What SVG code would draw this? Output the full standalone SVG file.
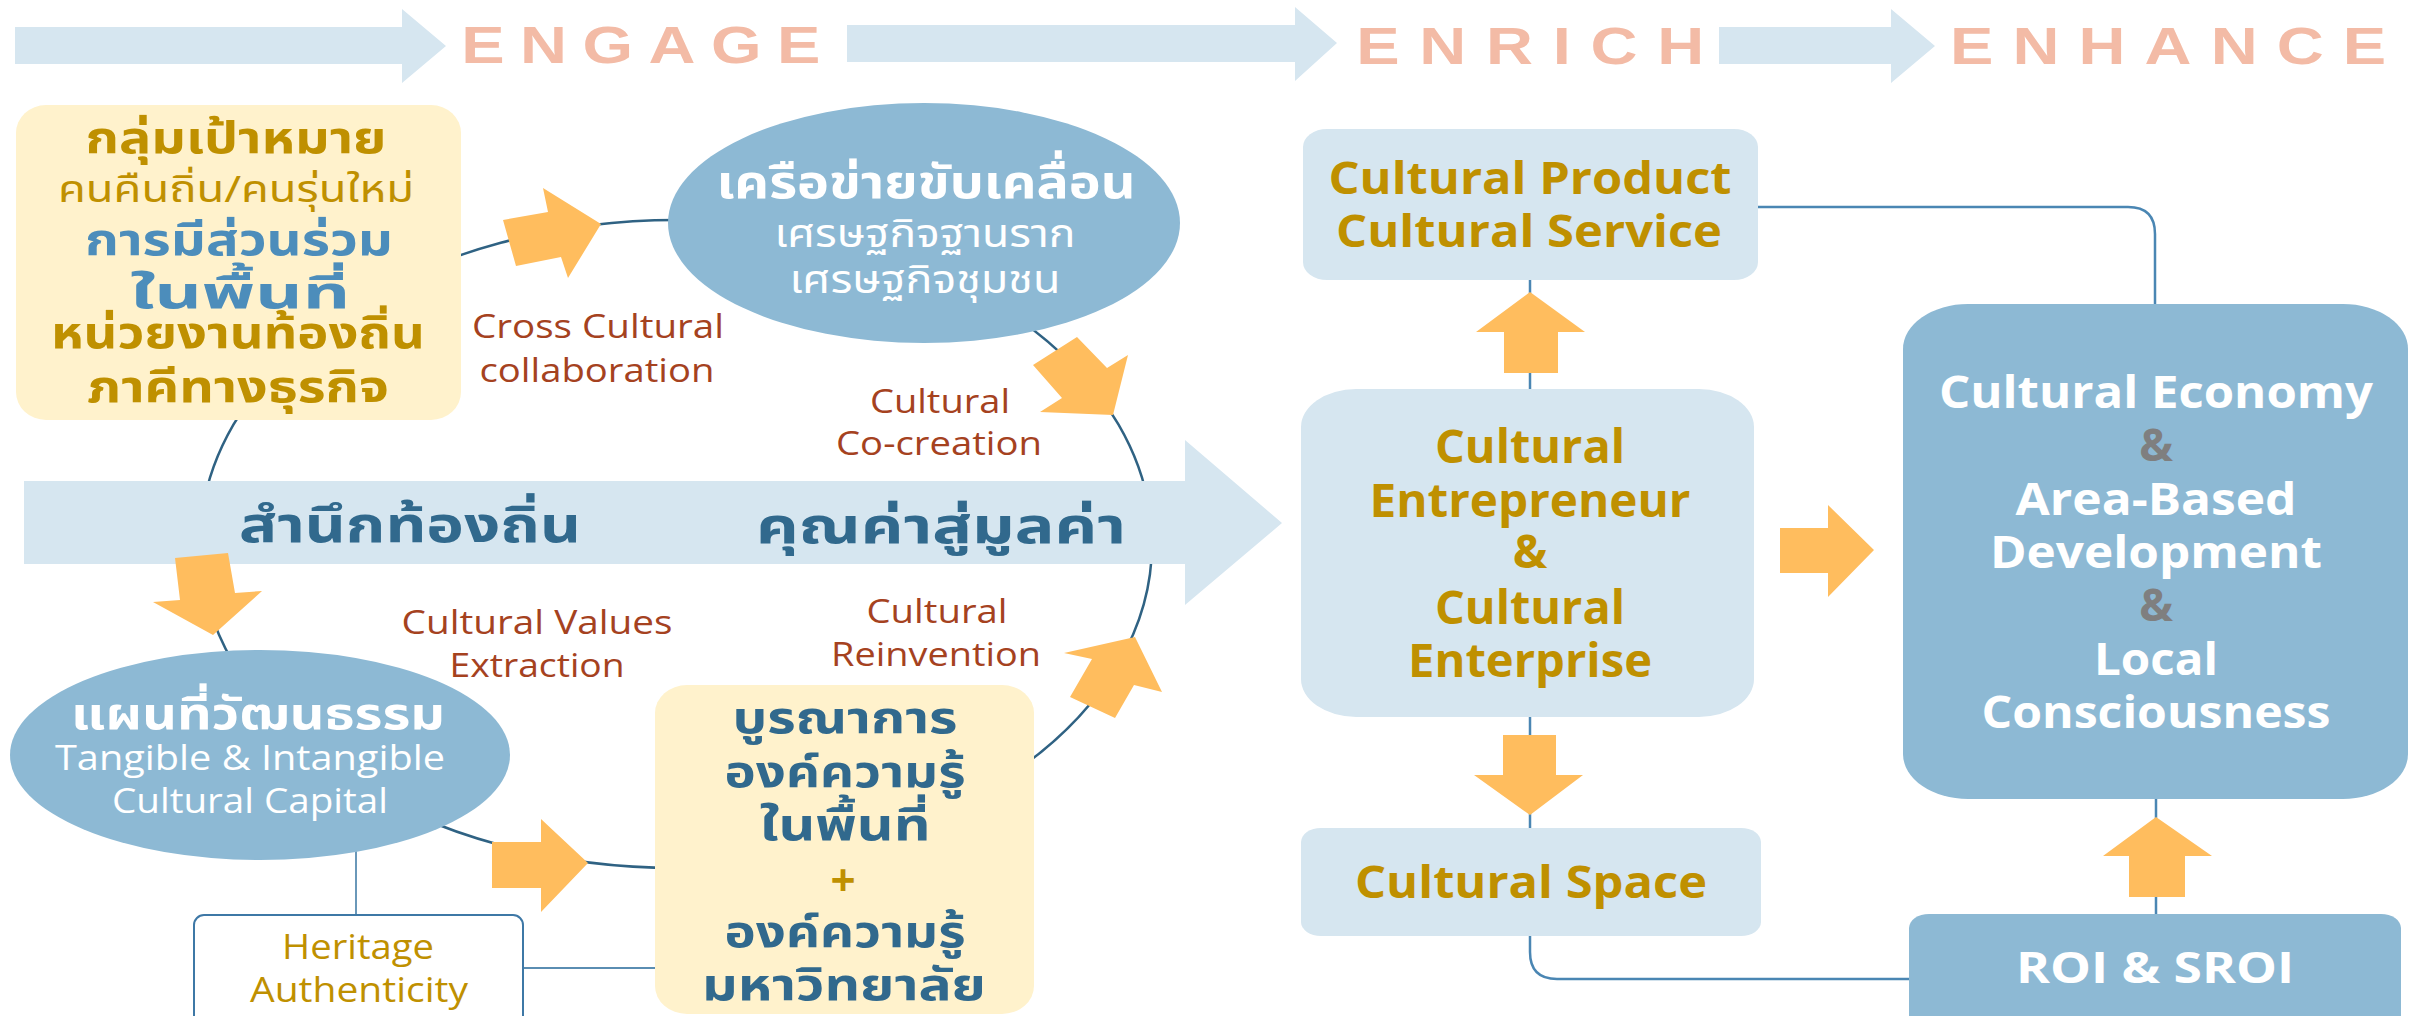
<svg xmlns="http://www.w3.org/2000/svg" width="2420" height="1016" viewBox="0 0 2420 1016">
<defs>
<style>
.bg{fill:#ffffff}
.pale{fill:#D6E6F0}
.mid{fill:#8DB9D4}
.yel{fill:#FFF2CC}
.org{fill:#FFBD5E}
.ring{fill:none;stroke:#2F6283;stroke-width:2.5}
.ln{fill:none;stroke:#4A86B3;stroke-width:2.5}
.ln2{fill:none;stroke:#5A8DB2;stroke-width:1.8}
.stage{font-family:"Liberation Sans",Arial,sans-serif;font-weight:bold;font-size:52px;fill:#F3BBA6}
.th{font-family:"Noto Sans Thai","Noto Sans Thai UI","Leelawadee UI",Tahoma,"DejaVu Sans","Noto Sans",sans-serif;text-anchor:middle}
.en{font-family:"Open Sans","Noto Sans","Liberation Sans",sans-serif;text-anchor:middle}
.b{font-weight:bold}
.gold{fill:#BF9000}
.blu{fill:#4C8DBB}
.dk{fill:#31698D}
.wh{fill:#ffffff}
.br{fill:#A5421F}
.gr{fill:#7F7F7F}
</style>
</defs>
<rect class="bg" x="0" y="0" width="2420" height="1016"/>

<!-- top stage arrows -->
<g id="stage-engage">
<polygon class="pale" points="15,27 402,27 402,9 446,46 402,83 402,64 15,64"/>
<text class="stage" transform="scale(1.25,1)" x="369" y="63" letter-spacing="12.4">ENGAGE</text>
</g>
<g id="stage-enrich">
<polygon class="pale" points="847,25 1295,25 1295,7 1337,43 1295,81 1295,62 847,62"/>
<text class="stage" transform="scale(1.25,1)" x="1085" y="64" letter-spacing="15.8">ENRICH</text>
</g>
<g id="stage-enhance">
<polygon class="pale" points="1719,27 1891,27 1891,9 1935,46 1891,83 1891,64 1719,64"/>
<text class="stage" transform="scale(1.25,1)" x="1560" y="64" letter-spacing="15.3">ENHANCE</text>
</g>

<!-- connectors -->
<g id="connectors">
<ellipse class="ring" cx="676" cy="544" rx="476" ry="324"/>
<line class="ln2" x1="356" y1="850" x2="356" y2="930"/>
<line class="ln2" x1="523" y1="968" x2="655" y2="968"/>
<path class="ln" d="M1758,207 H2128 Q2155,207 2155,234 V304"/>
<line class="ln" x1="1530" y1="280" x2="1530" y2="389"/>
<line class="ln" x1="1530" y1="717" x2="1530" y2="828"/>
<path class="ln" d="M1530,936 V952 Q1530,979 1557,979 H1909"/>
<line class="ln" x1="2156" y1="799" x2="2156" y2="914"/>
</g>

<!-- central band arrow -->
<g id="band">
<polygon class="pale" points="24,481 1185,481 1185,440 1282,523 1185,605 1185,564 24,564"/>
<text class="th b dk" x="410" y="542" font-size="50" textLength="342" lengthAdjust="spacingAndGlyphs">สำนึกท้องถิ่น</text>
<text class="th b dk" x="941" y="543" font-size="50" textLength="370" lengthAdjust="spacingAndGlyphs">คุณค่าสู่มูลค่า</text>
</g>

<!-- left nodes -->
<g id="target-group">
<rect class="yel" x="16" y="105" width="445" height="315" rx="30" ry="28"/>
<text class="th b gold" x="236" y="153" font-size="44" textLength="301" lengthAdjust="spacingAndGlyphs">กลุ่มเป้าหมาย</text>
<text class="th gold" x="236" y="202" font-size="37" textLength="356" lengthAdjust="spacingAndGlyphs">คนคืนถิ่น/คนรุ่นใหม่</text>
<text class="th b blu" x="239" y="255" font-size="44" textLength="308" lengthAdjust="spacingAndGlyphs">การมีส่วนร่วม</text>
<text class="th b blu" x="240" y="308" font-size="44" textLength="220" lengthAdjust="spacingAndGlyphs">ในพื้นที่</text>
<text class="th b gold" x="238" y="348" font-size="44" textLength="374" lengthAdjust="spacingAndGlyphs">หน่วยงานท้องถิ่น</text>
<text class="th b gold" x="238" y="402" font-size="44" textLength="302" lengthAdjust="spacingAndGlyphs">ภาคีทางธุรกิจ</text>
</g>

<g id="network">
<ellipse class="mid" cx="924" cy="223" rx="256" ry="120"/>
<text class="th b wh" x="926" y="198" font-size="46" textLength="419" lengthAdjust="spacingAndGlyphs">เครือข่ายขับเคลื่อน</text>
<text class="th wh" x="925" y="247" font-size="39" textLength="301" lengthAdjust="spacingAndGlyphs">เศรษฐกิจฐานราก</text>
<text class="th wh" x="925" y="293" font-size="39" textLength="271" lengthAdjust="spacingAndGlyphs">เศรษฐกิจชุมชน</text>
</g>

<g id="culture-map">
<ellipse class="mid" cx="260" cy="755" rx="250" ry="105"/>
<text class="th b wh" x="258" y="729" font-size="44" textLength="374" lengthAdjust="spacingAndGlyphs">แผนที่วัฒนธรรม</text>
<text class="en wh" x="250" y="770" font-size="34" textLength="390" lengthAdjust="spacingAndGlyphs">Tangible &amp; Intangible</text>
<text class="en wh" x="250" y="813" font-size="34" textLength="276" lengthAdjust="spacingAndGlyphs">Cultural Capital</text>
</g>

<g id="knowledge">
<rect class="yel" x="655" y="685" width="379" height="329" rx="32" ry="28"/>
<text class="th b dk" x="845" y="733" font-size="44" textLength="225" lengthAdjust="spacingAndGlyphs">บูรณาการ</text>
<text class="th b dk" x="845" y="787" font-size="44" textLength="241" lengthAdjust="spacingAndGlyphs">องค์ความรู้</text>
<text class="th b dk" x="845" y="840" font-size="44" textLength="171" lengthAdjust="spacingAndGlyphs">ในพื้นที่</text>
<text class="en b gold" x="843" y="896" font-size="44">+</text>
<text class="th b dk" x="845" y="947" font-size="44" textLength="241" lengthAdjust="spacingAndGlyphs">องค์ความรู้</text>
<text class="th b dk" x="844" y="1000" font-size="44" textLength="284" lengthAdjust="spacingAndGlyphs">มหาวิทยาลัย</text>
</g>

<g id="heritage">
<rect x="194" y="915" width="329" height="115" rx="10" ry="10" fill="#ffffff" stroke="#3E78A6" stroke-width="2"/>
<text class="en gold" x="358" y="959" font-size="34" textLength="152" lengthAdjust="spacingAndGlyphs">Heritage</text>
<text class="en gold" x="359" y="1002" font-size="34" textLength="218" lengthAdjust="spacingAndGlyphs">Authenticity</text>
</g>

<!-- labels on the ring -->
<g id="labels">
<text class="en br" x="598" y="338" font-size="32" textLength="252" lengthAdjust="spacingAndGlyphs">Cross Cultural</text>
<text class="en br" x="597" y="382" font-size="32" textLength="235" lengthAdjust="spacingAndGlyphs">collaboration</text>
<text class="en br" x="940" y="413" font-size="32" textLength="140" lengthAdjust="spacingAndGlyphs">Cultural</text>
<text class="en br" x="939" y="455" font-size="32" textLength="206" lengthAdjust="spacingAndGlyphs">Co-creation</text>
<text class="en br" x="537" y="634" font-size="32" textLength="271" lengthAdjust="spacingAndGlyphs">Cultural Values</text>
<text class="en br" x="537" y="677" font-size="32" textLength="175" lengthAdjust="spacingAndGlyphs">Extraction</text>
<text class="en br" x="937" y="623" font-size="32" textLength="141" lengthAdjust="spacingAndGlyphs">Cultural</text>
<text class="en br" x="936" y="666" font-size="32" textLength="210" lengthAdjust="spacingAndGlyphs">Reinvention</text>
</g>

<!-- right nodes -->
<g id="product-service">
<rect class="pale" x="1303" y="129" width="455" height="151" rx="24" ry="18"/>
<text class="en b gold" x="1530" y="194" font-size="45" textLength="403" lengthAdjust="spacingAndGlyphs">Cultural Product</text>
<text class="en b gold" x="1529" y="247" font-size="45" textLength="386" lengthAdjust="spacingAndGlyphs">Cultural Service</text>
</g>
<g id="entrepreneur">
<rect class="pale" x="1301" y="389" width="453" height="328" rx="55" ry="38"/>
<text class="en b gold" x="1530" y="463" font-size="46" textLength="190" lengthAdjust="spacingAndGlyphs">Cultural</text>
<text class="en b gold" x="1530" y="517" font-size="46" textLength="321" lengthAdjust="spacingAndGlyphs">Entrepreneur</text>
<text class="en b gold" x="1530" y="568" font-size="46">&amp;</text>
<text class="en b gold" x="1530" y="624" font-size="46" textLength="190" lengthAdjust="spacingAndGlyphs">Cultural</text>
<text class="en b gold" x="1530" y="677" font-size="46" textLength="244" lengthAdjust="spacingAndGlyphs">Enterprise</text>
</g>
<g id="space">
<rect class="pale" x="1301" y="828" width="460" height="108" rx="20" ry="14"/>
<text class="en b gold" x="1531" y="898" font-size="45" textLength="352" lengthAdjust="spacingAndGlyphs">Cultural Space</text>
</g>
<g id="economy">
<rect class="mid" x="1903" y="304" width="505" height="495" rx="65" ry="45"/>
<text class="en b wh" x="2156" y="408" font-size="45" textLength="434" lengthAdjust="spacingAndGlyphs">Cultural Economy</text>
<text class="en b gr" x="2156" y="461" font-size="45">&amp;</text>
<text class="en b wh" x="2156" y="515" font-size="45" textLength="281" lengthAdjust="spacingAndGlyphs">Area-Based</text>
<text class="en b wh" x="2156" y="568" font-size="45" textLength="332" lengthAdjust="spacingAndGlyphs">Development</text>
<text class="en b gr" x="2156" y="621" font-size="45">&amp;</text>
<text class="en b wh" x="2156" y="675" font-size="45" textLength="124" lengthAdjust="spacingAndGlyphs">Local</text>
<text class="en b wh" x="2156" y="728" font-size="45" textLength="349" lengthAdjust="spacingAndGlyphs">Consciousness</text>
</g>
<g id="roi">
<rect class="mid" x="1909" y="914" width="492" height="120" rx="20" ry="14"/>
<text class="en b wh" x="2155" y="983" font-size="43" textLength="278" lengthAdjust="spacingAndGlyphs">ROI &amp; SROI</text>
</g>

<!-- orange flow arrows -->
<g id="flow-arrows">
<polygon class="org" points="503,220 548,212 543,188 601,224 568,278 561,257 516,266"/>
<polygon class="org" points="1077,337 1107,368 1128,355 1113,415 1040,412 1062,398 1033,365"/>
<polygon class="org" points="1135,637 1162,692 1134,685 1115,718 1070,697 1092,659 1064,653"/>
<polygon class="org" points="175,558 228,553 235,593 262,591 213,635 153,602 180,600"/>
<polygon class="org" points="492,842 541,842 541,819 588,863 541,912 541,888 492,888"/>
<polygon class="org" points="1504,373 1504,332 1476,332 1530,292 1585,332 1558,332 1558,373"/>
<polygon class="org" points="1503,735 1556,735 1556,775 1583,775 1530,815 1474,775 1503,775"/>
<polygon class="org" points="1780,528 1828,528 1828,505 1874,550 1828,597 1828,573 1780,573"/>
<polygon class="org" points="2129,897 2129,856 2103,856 2156,817 2212,856 2185,856 2185,897"/>
</g>
</svg>
